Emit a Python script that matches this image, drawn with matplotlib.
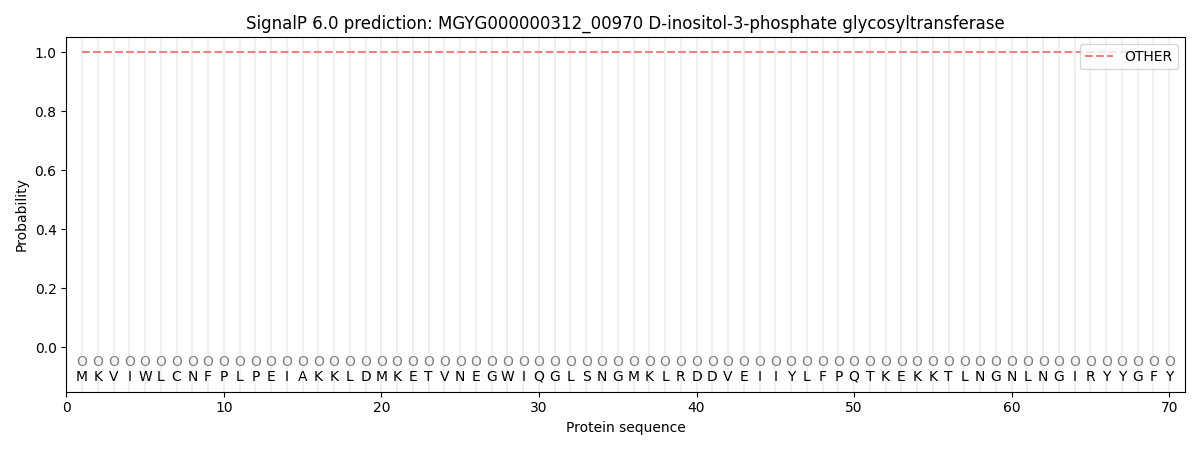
import matplotlib
matplotlib.use("Agg")
import matplotlib.pyplot as plt
import numpy as np

sequence = list("MKVIWLCNFPLPEIAKKLDMKETVNEGWIQGLSNGMKLRDDVEIIYLFPQTKEKKTLNGNLNGIRYYGFY")
labels = ["O"] * len(sequence)
positions = list(range(1, len(sequence) + 1))
other_prob = [1.0] * len(sequence)

fig, ax = plt.subplots(figsize=(12, 4.5), dpi=100)
for p in positions:
    ax.axvline(p, color="#f0f0f0", lw=1.5, zorder=0)
ax.plot(positions, other_prob, ls="--", color="#f08080", lw=1.5, label="OTHER")
for p, lab, aa in zip(positions, labels, sequence):
    ax.text(p, -0.05, lab, ha="center", va="center", fontsize=10, color="grey")
    ax.text(p, -0.1, aa, ha="center", va="center", fontsize=10)
ax.set_xlim(0, 71)
ax.set_ylim(-0.15, 1.05)
ax.set_xlabel("Protein sequence")
ax.set_ylabel("Probability")
ax.set_title("SignalP 6.0 prediction: MGYG000000312_00970 D-inositol-3-phosphate glycosyltransferase")
ax.legend(loc="upper right")
fig.tight_layout()
fig.savefig("out.png")
